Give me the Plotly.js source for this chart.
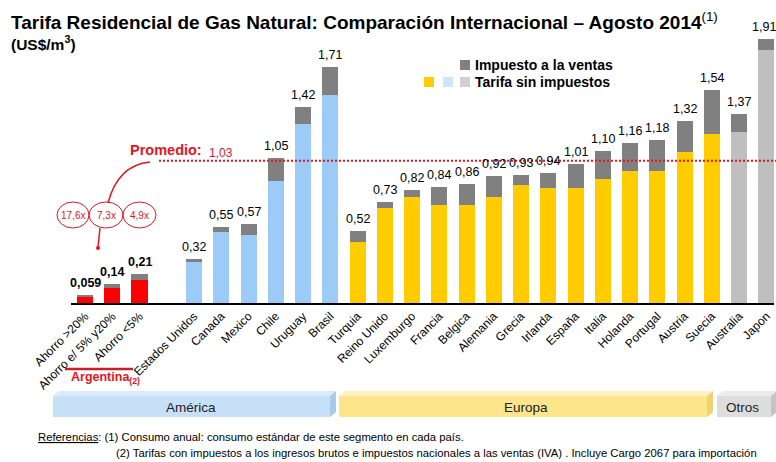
<!DOCTYPE html>
<html><head><meta charset="utf-8">
<script src="https://cdn.plot.ly/plotly-3.0.1.min.js"></script>
<style>html,body{margin:0;padding:0;background:#fff}#chart{width:776px;height:462px}</style>
</head><body><div id="chart"></div><script>
// ---- data ----
const argCats = ["Ahorro >20%", "Ahorro e/ 5% y20%", "Ahorro <5%"];
const argTotal = [0.059, 0.14, 0.21];
const argPre = [0.046, 0.109, 0.167];

const amCats = ["Estados Unidos", "Canada", "Mexico", "Chile", "Uruguay", "Brasil"];
const amTotal = [0.32, 0.55, 0.57, 1.05, 1.42, 1.71];
const amPre = [0.297, 0.514, 0.493, 0.883, 1.295, 1.505];

const euCats = ["Turquia", "Reino Unido", "Luxemburgo", "Francia", "Belgica", "Alemania", "Grecia", "Irlanda", "España", "Italia", "Holanda", "Portugal", "Austria", "Suecia"];
const euTotal = [0.52, 0.73, 0.82, 0.84, 0.86, 0.92, 0.93, 0.94, 1.01, 1.10, 1.16, 1.18, 1.32, 1.54];
const euPre = [0.44, 0.69, 0.765, 0.707, 0.709, 0.767, 0.854, 0.83, 0.834, 0.895, 0.953, 0.957, 1.095, 1.228];

const otCats = ["Australia", "Japon"];
const otTotal = [1.37, 1.91];
const otPre = [1.242, 1.836];

const promedio = 1.03;
const ratios = ["17,6x", "7,3x", "4,9x"];

// ---- layout helpers ----
const W = 776, H = 462;
const mL = 71, mR = 2, mT = 27, mB = 159;
const pw = W - mL - mR, ph = H - mT - mB;
const px = x => (x - mL) / pw;
const py = y => (H - mB - y) / ph;
const FONT = "Liberation Sans, Arial, sans-serif";
const RED = "#E8141E";

const groups = [
  {cats: argCats, total: argTotal, pre: argPre, color: "#FF0000", start: 0, bold: true},
  {cats: amCats, total: amTotal, pre: amPre, color: "#9DCBF7", start: 4, bold: false},
  {cats: euCats, total: euTotal, pre: euPre, color: "#FFCC00", start: 10, bold: false},
  {cats: otCats, total: otTotal, pre: otPre, color: "#BFBFBF", start: 24, bold: false}
];

const fmt = v => (v < 0.1 ? v.toFixed(3) : v.toFixed(2)).replace(".", ",");

const traces = [];
const allX = [], allTax = [], allLabels = [];
const annotations = [];
const barW = 0.59;
const lastX = 25;

groups.forEach(g => {
  const xs = g.cats.map((c, i) => g.start + i);
  traces.push({type: "bar", x: xs, y: g.pre, marker: {color: g.color}, width: barW,
    showlegend: false, hoverinfo: "skip"});
  xs.forEach((x, i) => {
    allX.push(x);
    allTax.push(+(g.total[i] - g.pre[i]).toFixed(4));
    allLabels.push(g.cats[i]);
    annotations.push({x: x, y: g.total[i], xref: "x", yref: "y",
      text: g.bold ? "<b>" + fmt(g.total[i]) + "</b>" : fmt(g.total[i]),
      showarrow: false, xanchor: "center", yanchor: "bottom", yshift: 3, xshift: x === lastX ? -2 : 0,
      font: {family: FONT, size: 12.5, color: "#000"}});
  });
});
traces.push({type: "bar", x: allX, y: allTax, marker: {color: "#808080"}, width: barW,
  showlegend: false, hoverinfo: "skip"});

// ---- decorations (paper coordinates) ----
const shapes = [];
shapes.push({type: "line", xref: "paper", yref: "y", x0: px(159), x1: px(778), y0: promedio, y1: promedio,
  line: {color: RED, width: 2, dash: "2px,2px"}});
shapes.push({type: "path", xref: "paper", yref: "paper",
  path: `M ${px(150)} ${py(162)} Q ${px(118)} ${py(165)} ${px(108)} ${py(203)}`,
  line: {color: RED, width: 1.5}});
[[57, 89], [89, 123], [123, 156]].forEach((e, i) => {
  shapes.push({type: "circle", xref: "paper", yref: "paper", x0: px(e[0]), x1: px(e[1]), y0: py(228), y1: py(202),
    line: {color: RED, width: 1}, fillcolor: "rgba(255,255,255,0)"});
  annotations.push({xref: "paper", yref: "paper", x: px((e[0] + e[1]) / 2), y: py(215), text: ratios[i],
    showarrow: false, xanchor: "center", yanchor: "middle", font: {family: FONT, size: 10, color: RED}});
});
shapes.push({type: "line", xref: "paper", yref: "paper", x0: px(100), x1: px(98), y0: py(228), y1: py(247),
  line: {color: RED, width: 1.5}});
shapes.push({type: "circle", xref: "paper", yref: "paper", x0: px(96), x1: px(100), y0: py(250), y1: py(246),
  line: {color: RED, width: 0}, fillcolor: RED});
shapes.push({type: "line", xref: "paper", yref: "paper", x0: px(65), x1: px(133), y0: py(369), y1: py(369),
  line: {color: "#C8202A", width: 2.5}});

// legend squares
shapes.push({type: "rect", xref: "paper", yref: "paper", x0: px(460), x1: px(470), y0: py(70), y1: py(60),
  fillcolor: "#808080", line: {width: 0}});
[[424, "#FFCC00"], [443, "#CCE6FA"], [460, "#D0D0D0"]].forEach(s => {
  shapes.push({type: "rect", xref: "paper", yref: "paper", x0: px(s[0]), x1: px(s[0] + 10), y0: py(87), y1: py(77),
    fillcolor: s[1], line: {width: 0}});
});

// region bands
function band(x0, x1, main, top, side) {
  shapes.push({type: "path", xref: "paper", yref: "paper", fillcolor: top, line: {width: 0},
    path: `M ${px(x0)} ${py(396)} L ${px(x0 + 6)} ${py(391)} L ${px(x1)} ${py(391)} L ${px(x1 - 6)} ${py(396)} Z`});
  shapes.push({type: "rect", xref: "paper", yref: "paper", fillcolor: main, line: {width: 0},
    x0: px(x0), x1: px(x1 - 6), y0: py(417), y1: py(396)});
  shapes.push({type: "path", xref: "paper", yref: "paper", fillcolor: side, line: {width: 0},
    path: `M ${px(x1 - 6)} ${py(396)} L ${px(x1)} ${py(391)} L ${px(x1)} ${py(412)} L ${px(x1 - 6)} ${py(417)} Z`});
}
band(53, 336, "#C6E0F8", "#DCEBFB", "#A8CAEB");
band(339, 713, "#FDE58C", "#FEF0BF", "#F0D270");
band(717, 777, "#DDDDDD", "#EBEBEB", "#C4C4C4");

// texts
const txt = (x, y, text, opts) => Object.assign({xref: "paper", yref: "paper", x: px(x), y: py(y), text: text,
  showarrow: false, xanchor: "left", yanchor: "middle", font: {family: FONT, size: 12, color: "#000"}}, opts || {});

annotations.push(txt(9, 21, "<b>Tarifa Residencial de Gas Natural: Comparación Internacional – Agosto 2014</b><sup>(1)</sup>",
  {font: {family: FONT, size: 19, color: "#000"}}));
annotations.push(txt(9, 43, "<b>(US$/m<sup>3</sup>)</b>", {font: {family: FONT, size: 15.5, color: "#000"}}));
annotations.push(txt(473, 65, "<b>Impuesto a la ventas</b>", {font: {family: FONT, size: 14, color: "#000"}}));
annotations.push(txt(473, 82, "<b>Tarifa sin impuestos</b>", {font: {family: FONT, size: 14, color: "#000"}}));
annotations.push(txt(128, 150, "<b>Promedio:</b>", {font: {family: FONT, size: 14.5, color: RED}}));
annotations.push(txt(207, 153, fmt(promedio), {font: {family: FONT, size: 12, color: RED}}));
annotations.push(txt(69, 378, "<b>Argentina<sub>(2)</sub></b>", {font: {family: FONT, size: 12.5, color: RED}}));
annotations.push(txt(191, 407, "América", {xanchor: "center", font: {family: FONT, size: 13.5, color: "#222"}}));
annotations.push(txt(526, 407, "Europa", {xanchor: "center", font: {family: FONT, size: 13.5, color: "#222"}}));
annotations.push(txt(742, 407, "Otros", {xanchor: "center", font: {family: FONT, size: 13.5, color: "#222"}}));
annotations.push(txt(36, 437, "<u>Referencias</u>: (1) Consumo anual: consumo estándar de este segmento en cada país.",
  {font: {family: FONT, size: 11.3, color: "#000"}}));
annotations.push(txt(114, 453, "(2) Tarifas con impuestos a los ingresos brutos e impuestos nacionales a las ventas (IVA) . Incluye Cargo 2067 para importación",
  {font: {family: FONT, size: 11.3, color: "#000"}}));

const layout = {
  width: W, height: H,
  margin: {l: mL, r: mR, t: mT, b: mB, pad: 0},
  paper_bgcolor: "#fff", plot_bgcolor: "#fff",
  barmode: "stack",
  showlegend: false,
  font: {family: FONT, size: 12, color: "#000"},
  xaxis: {range: [-0.514, 25.28], tickmode: "array", tickvals: allX, ticktext: allLabels, tickangle: -45,
    tickfont: {family: FONT, size: 12, color: "#000"}, showline: true, linecolor: "#000", linewidth: 1.5,
    showgrid: false, zeroline: false, ticks: "", fixedrange: true},
  yaxis: {range: [0, 2], visible: false, showgrid: false, zeroline: false, fixedrange: true},
  shapes: shapes,
  annotations: annotations
};

Plotly.newPlot("chart", traces, layout, {displayModeBar: false, staticPlot: true});
</script></body></html>
